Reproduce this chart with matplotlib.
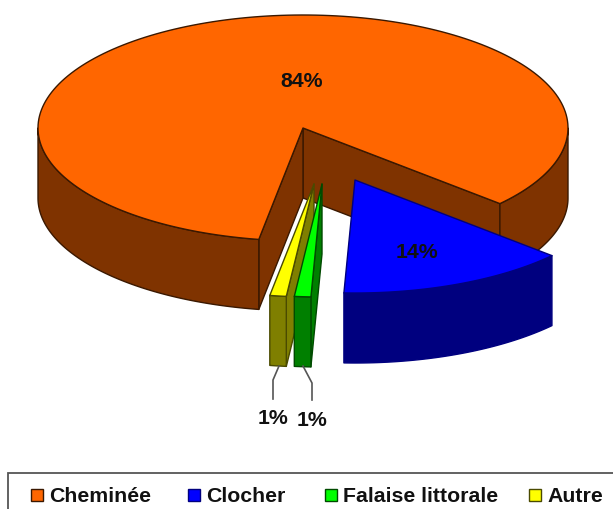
#!/usr/bin/env python3

import matplotlib
matplotlib.use('Agg')
import matplotlib.pyplot as plt
from matplotlib.patches import Polygon, Rectangle
import numpy as np

categories = ['Cheminée', 'Clocher', 'Falaise littorale', 'Autre']
values = [84, 14, 1, 1]
labels = ['84%', '14%', '1%', '1%']

top_colors = ['#ff6600', '#0000ff', '#00ff00', '#ffff00']
side_colors = ['#7f3300', '#00007f', '#007f00', '#7f7f00']
edge_colors = ['#3a1800', '#00007f', '#004a00', '#4a4a00']

# pie geometry, in pixels of the picture
CX, CY = 303, 128
RX, RY = 265, 113
DEPTH = 70
START = 189.6 - 360  # clockwise from top, where the first slice starts
OFFSETS = [(0, 0), (52, 52), (19, 56), (11, 56)]


def arc(t0, t1, ox, oy, dz=0):
  t = np.radians(np.linspace(t0, t1, 200))
  return np.column_stack([CX + ox + RX*np.sin(t), CY + oy + dz - RY*np.cos(t)])


def face(ax, pts, color, edge, z):
  ax.add_patch(Polygon(pts, closed=True, facecolor=color, edgecolor=edge,
                       linewidth=1.0, joinstyle='round', zorder=z))


def wall(ax, t0, t1, ox, oy, color, edge, z):
  a = arc(t0, t1, ox, oy)
  b = arc(t0, t1, ox, oy, DEPTH)
  face(ax, np.vstack([a, b[::-1]]), color, edge, z)


def cut(ax, t, ox, oy, color, edge, z):
  p = arc(t, t, ox, oy)[0]
  c = (CX + ox, CY + oy)
  face(ax, [c, p, (p[0], p[1]+DEPTH), (c[0], c[1]+DEPTH)], color, edge, z)


def main():
  plt.rcParams['font.family'] = ['Liberation Sans', 'DejaVu Sans']
  fig = plt.figure(figsize=(6.13, 5.09), dpi=100)
  ax = fig.add_axes([0, 0, 1, 1])
  ax.set_xlim(0, 613)
  ax.set_ylim(509, 0)
  ax.axis('off')

  # slices run clockwise; angles come straight from the values
  spans = np.array(values) / sum(values) * 360
  starts = START + np.concatenate([[0], np.cumsum(spans)[:-1]])
  ends = starts + spans

  # Orange block: the notch faces, then the outer wall either side of the notch
  z = 2
  ox, oy = OFFSETS[0]
  cut(ax, ends[0], ox, oy, side_colors[0], edge_colors[0], z)
  cut(ax, starts[0], ox, oy, side_colors[0], edge_colors[0], z)
  wall(ax, ends[0], 90, ox, oy, side_colors[0], edge_colors[0], z)
  wall(ax, starts[0]+360, 270, ox, oy, side_colors[0], edge_colors[0], z)
  tpts = arc(starts[0], ends[0], ox, oy)
  face(ax, np.vstack([[CX+ox, CY+oy], tpts]), top_colors[0], edge_colors[0], z+1)

  # Blue slice only shows its outer wall
  z = 5
  ox, oy = OFFSETS[1]
  wall(ax, starts[1], ends[1], ox, oy, side_colors[1], edge_colors[1], z)
  tpts = arc(starts[1], ends[1], ox, oy)
  face(ax, np.vstack([[CX+ox, CY+oy], tpts]), top_colors[1], edge_colors[1], z+1)

  # Thin slices, yellow goes behind green
  for i, z in ((3, 7), (2, 10)):
    ox, oy = OFFSETS[i]
    cut(ax, starts[i], ox, oy, side_colors[i], edge_colors[i], z)
    wall(ax, starts[i], ends[i], ox, oy, side_colors[i], edge_colors[i], z+1)
    tpts = arc(starts[i], ends[i], ox, oy)
    face(ax, np.vstack([[CX+ox, CY+oy], tpts]), top_colors[i], edge_colors[i], z+1)

  # leader lines for the small slices
  ax.plot([279, 273, 273], [366, 380, 399], color='#555555', lw=1.2, zorder=12)
  ax.plot([303, 312, 312], [366, 383, 400], color='#555555', lw=1.2, zorder=12)

  lab_pos = [(302, 81), (417, 253), (312, 421), (273, 419)]
  for s, (x, y) in zip(labels, lab_pos):
    ax.text(x, y, s, fontsize=15.3, fontweight='bold', color='#111111',
            ha='center', va='center', zorder=15)

  # Legend frame runs off the right and bottom of the picture
  ax.add_patch(Rectangle((8, 473), 640, 60, facecolor='white', edgecolor='#555555',
                         linewidth=1.3, zorder=1))
  leg_x = [31, 188, 325, 529]
  for name, col, edge, x in zip(categories, top_colors, edge_colors, leg_x):
    ax.add_patch(Rectangle((x, 489), 12, 12, facecolor=col, edgecolor=edge,
                           linewidth=1.0, zorder=2))
    ax.text(x+18, 496, name, fontsize=15.3, fontweight='bold', color='#111111',
            ha='left', va='center', zorder=2)

  fig.savefig('out.png', dpi=100)


if __name__ == '__main__':
  main()
